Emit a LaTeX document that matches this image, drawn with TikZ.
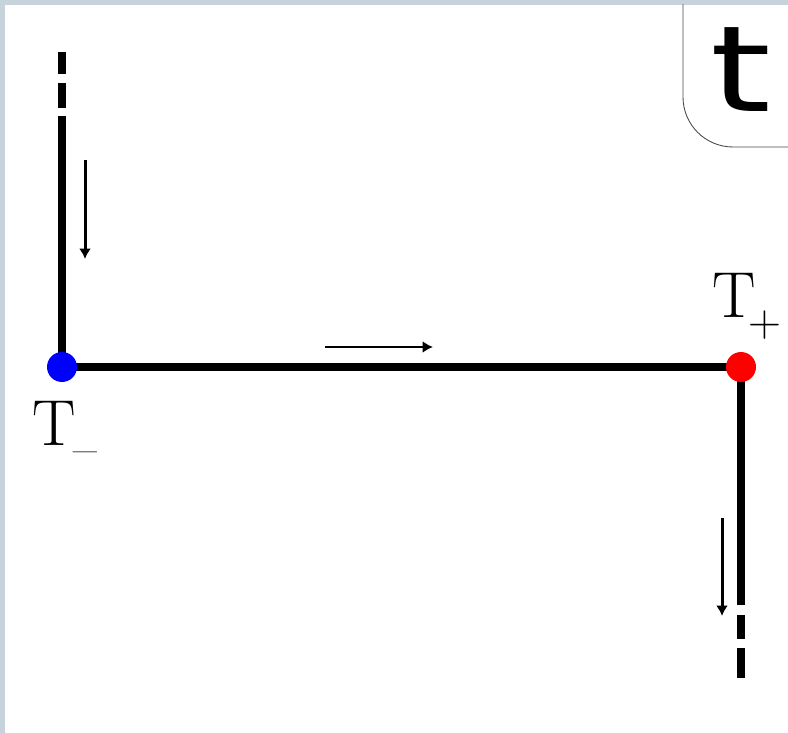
\documentclass[tikz,border=0pt]{standalone}
\usepackage{fontspec}
\newfontfamily\tabfont{DejaVu Sans}
\usetikzlibrary{arrows.meta}
\definecolor{framegrey}{HTML}{C7D3DA}
\definecolor{tabline}{HTML}{4A4A4A}
\definecolor{dotblue}{HTML}{0000FF}
\definecolor{dotred}{HTML}{FF0000}
\newcommand{\subsym}[2]{\kern#1\raisebox{-11pt}{\fontsize{26}{26}\selectfont #2}}

\begin{document}
\begin{tikzpicture}[x=0.02cm, y=-0.02cm,
  wire/.style={line width=0.17cm},
  flow/.style={line width=0.06cm, -{Latex[length=0.21cm, width=0.24cm]}},
  dot/.style={circle, inner sep=0pt, minimum size=0.6cm},
  lbl/.style={font=\fontsize{37}{40}\selectfont, inner sep=0pt}]

\useasboundingbox (0,0) rectangle (788,733);
\fill[framegrey] (0,0) rectangle (788,733);
\fill[white] (5,5) rectangle (788,733);

% tab in the corner
\begin{scope}
  \clip (5,5) rectangle (788,733);
  \draw[tabline, line width=0.5pt, rounded corners=1cm]
    (683,-40) -- (683,147) -- (830,147);
\end{scope}
\node[font=\tabfont\fontsize{68}{68}\selectfont, anchor=base west,
      inner sep=0pt] (tab) at (710,112) {\scalebox{1.3}[1]{t}};

% path
\coordinate (tm) at (62,367);
\coordinate (tp) at (741,367);
\draw[wire] (tm) -- (tp);
\draw[wire] (tm) -- (62,116);
\draw[wire] (62,108) -- (62,83) (62,74) -- (62,52);
\draw[wire] (tp) -- (741,605);
\draw[wire] (741,615) -- (741,639) (741,648) -- (741,678);

\node[dot, fill=dotblue] (Tm) at (tm) {};
\node[dot, fill=dotred] (Tp) at (tp) {};
\node[lbl, anchor=base west] (Tmlbl) at (32,445)
  {T\subsym{-1.5pt}{\scalebox{1.13}[1]{–}}};
\node[lbl, anchor=base west] (Tplbl) at (712,317)
  {T\subsym{-4pt}{+}};

% direction arrows
\coordinate (a1) at (85,160);  \coordinate (b1) at (85,259);
\coordinate (a2) at (325,347); \coordinate (b2) at (433,347);
\coordinate (a3) at (722,518); \coordinate (b3) at (722,616);
\draw[flow] (a1) -- (b1);
\draw[flow] (a2) -- (b2);
\draw[flow] (a3) -- (b3);

\end{tikzpicture}
\end{document}
